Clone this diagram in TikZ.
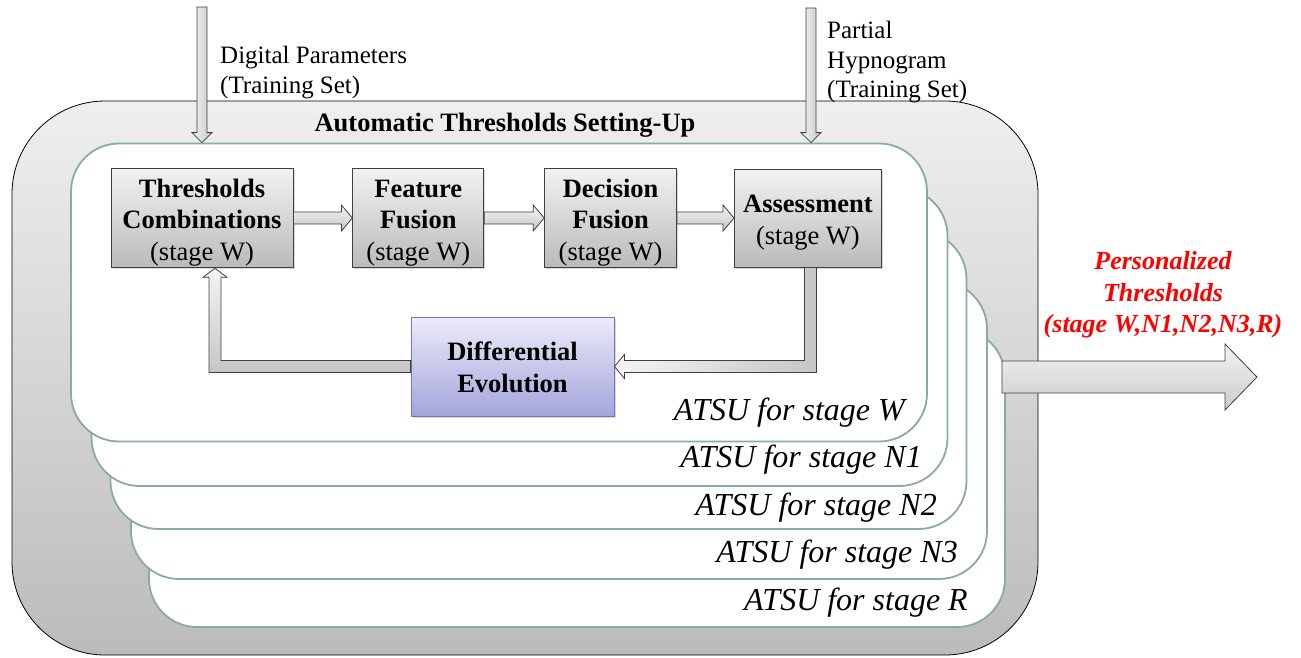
\documentclass[tikz,border=0pt]{standalone}
\usepackage{fontspec}
\setmainfont{Liberation Serif}
\usetikzlibrary{positioning,calc,shadows}

\definecolor{cardline}{HTML}{8AA9A9}
\definecolor{boxtop}{HTML}{F2F2F2}
\definecolor{boxbot}{HTML}{BABABA}
\definecolor{detop}{HTML}{ECECF9}
\definecolor{debot}{HTML}{A4A4DD}
\definecolor{deline}{HTML}{7373C4}
\definecolor{outtop}{HTML}{EFEFEF}
\definecolor{outbot}{HTML}{BBBBBB}
\definecolor{arrline}{HTML}{404040}

\newcommand{\topgap}{\rule{0pt}{27pt}}

\begin{document}
\begin{tikzpicture}[
    x=1pt, y=-1pt,
    outerbox/.style={draw=black, line width=0.8pt, rounded corners=93pt, top color=outtop, bottom color=outbot, minimum width=1026pt, minimum height=554pt},
    card/.style={draw=cardline, line width=1.8pt, fill=white, rounded corners=48pt, minimum width=856pt, minimum height=298pt},
    stagebox/.style={draw=arrline, line width=0.8pt, top color=boxtop, bottom color=boxbot, minimum height=98pt, align=center, inner sep=2pt, font=\fontsize{26.5}{31.5}\selectfont, drop shadow={opacity=0.3, shadow xshift=1.5pt, shadow yshift=-1.5pt}},
    debox/.style={stagebox, draw=deline, top color=detop, bottom color=debot, font=\fontsize{26.5}{32}\selectfont\bfseries},
    atsu/.style={font=\fontsize{32}{36}\selectfont\itshape, inner sep=0pt},
    inlbl/.style={font=\fontsize{25}{29.5}\selectfont, align=left, inner sep=0pt},
    title/.style={font=\fontsize{26.5}{30}\selectfont\bfseries, inner sep=0pt},
    outlbl/.style={font=\fontsize{26}{31.5}\selectfont\bfseries\itshape, text=red, align=center},
    flowarrow/.style={draw=arrline, line width=0.8pt, top color=gray!8, bottom color=gray!45},
    sidearrow/.style={draw=arrline, line width=0.8pt, left color=gray!8, right color=gray!45},
    bigarrow/.style={draw=arrline, line width=0.8pt, top color=gray!10, bottom color=gray!40},
  ]
  \useasboundingbox (0,0) rectangle (1301,657);

  % outer frame
  \node[outerbox] (frame) at (525,378) {};
  \node[title] (ttl) at (505,125) {Automatic Thresholds Setting-Up};

  % stacked ATSU cards, back to front
  \foreach \n/\cx/\cy/\lx/\ly in {R/577/478/968/603, N3/559/430/958/555, N2/538.5/380/937/508, N1/519.5/337/922/460, W/499/292.5/905/413} {
    \node[card] (card\n) at (\cx,\cy) {};
    \node[atsu, anchor=east] (lbl\n) at (\lx,\ly) {ATSU for stage \n};
  }

  % stage W pipeline
  \node[stagebox, minimum width=182pt] (tc) at (202,218) {\topgap\textbf{Thresholds}\\\textbf{Combinations}\\(stage W)};
  \node[stagebox, minimum width=131pt, right=59pt of tc] (ff) {\topgap\textbf{Feature}\\\textbf{Fusion}\\(stage W)};
  \node[stagebox, minimum width=132pt, right=60pt of ff] (df) {\topgap\textbf{Decision}\\\textbf{Fusion}\\(stage W)};
  \node[stagebox, minimum width=147pt, right=57pt of df] (as) {\topgap\textbf{Assessment}\\(stage W)};
  \node[debox, minimum width=203pt, minimum height=99pt] (de) at (512.5,366.5) {\rule{0pt}{21pt}Differential\\Evolution};

  \foreach \a/\b in {tc/ff, ff/df, df/as}
    \draw[flowarrow] let \p1=(\a.east), \p2=(\b.west) in
      (\x1,\y1+6pt) -- (\x2-11pt,\y1+6pt) -- (\x2-11pt,\y1+13pt) -- (\x2,\y1)
      -- (\x2-11pt,\y1-13pt) -- (\x2-11pt,\y1-6pt) -- (\x1,\y1-6pt) -- cycle;

  % feedback loop
  \coordinate (asout) at ([xshift=2.5pt]as.south);
  \coordinate (tcin) at ([xshift=13pt]tc.south);
  \draw[sidearrow] let \p1=(asout), \p2=(de.east) in
    (\x1-6pt,\y1) -- (\x1-6pt,\y2+6pt) -- (\x2+10pt,\y2+6pt) -- (\x2+10pt,\y2+12pt) -- (\x2,\y2)
    -- (\x2+10pt,\y2-12pt) -- (\x2+10pt,\y2-6pt) -- (\x1+6pt,\y2-6pt) -- (\x1+6pt,\y1) -- cycle;
  \draw[flowarrow] let \p1=(de.west), \p2=(tcin) in
    (\x1,\y1+6pt) -- (\x2+6pt,\y1+6pt) -- (\x2+6pt,\y2-9pt) -- (\x2+12pt,\y2-9pt) -- (\x2,\y2)
    -- (\x2-12pt,\y2-9pt) -- (\x2-6pt,\y2-9pt) -- (\x2-6pt,\y1-6pt) -- (\x1,\y1-6pt) -- cycle;

  % inputs
  \coordinate (dpin) at (202,7);
  \coordinate (hpin) at (811,8);
  \foreach \c in {dpin,hpin}
    \draw[sidearrow] let \p1=(\c), \p2=(\c |- cardW.north) in
      (\x1-5pt,\y1) -- (\x1-5pt,\y2+10pt) -- (\x1-10pt,\y2+10pt) -- (\x1,\y2)
      -- (\x1+10pt,\y2+10pt) -- (\x1+5pt,\y2+10pt) -- (\x1+5pt,\y1) -- cycle;
  \node[inlbl, anchor=north west] (dplbl) at (220,46) {Digital Parameters\\(Training Set)};
  \node[inlbl, anchor=north west] (hplbl) at (827,21) {Partial\\Hypnogram\\(Training Set)};

  % output
  \coordinate (pout) at (1002,377);
  \coordinate (ptip) at (1257,377);
  \draw[bigarrow] let \p1=(pout), \p2=(ptip) in
    (\x1,\y1+16pt) -- (\x2-32pt,\y1+16pt) -- (\x2-32pt,\y1+33pt) -- (\x2,\y2)
    -- (\x2-32pt,\y1-33pt) -- (\x2-32pt,\y1-16pt) -- (\x1,\y1-16pt) -- cycle;
  \node[outlbl] (ptlbl) at (1163,295) {Personalized\\Thresholds\\(stage W,N1,N2,N3,R)};
\end{tikzpicture}
\end{document}
